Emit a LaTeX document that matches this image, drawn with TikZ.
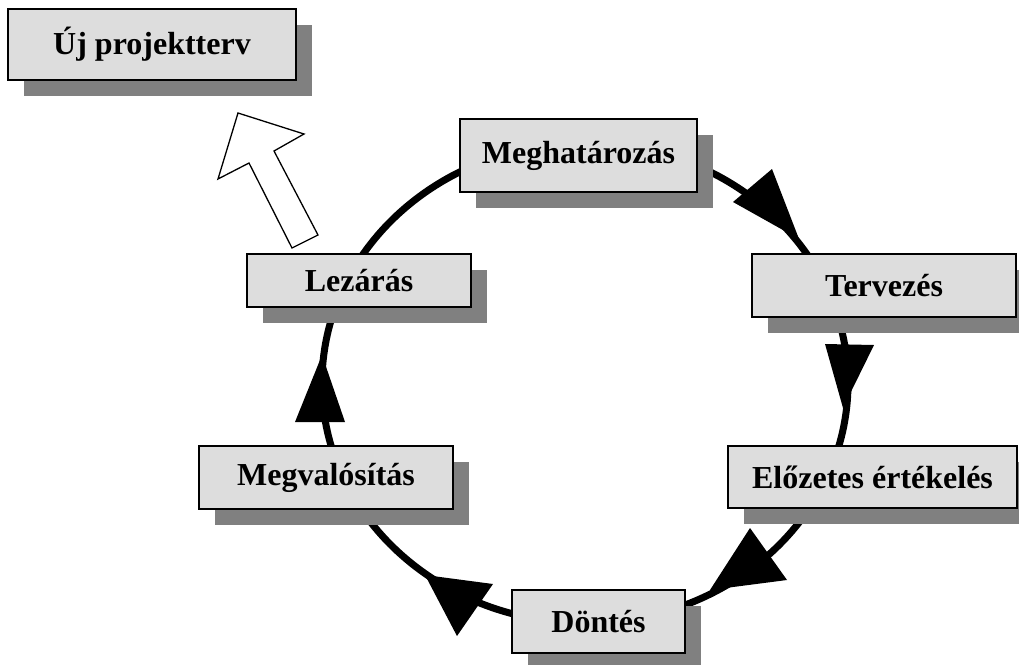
\documentclass[tikz,border=0pt]{standalone}
\usepackage{fontspec}
\setmainfont{Liberation Serif}
\definecolor{boxfill}{RGB}{221,221,221}
\definecolor{shadowgray}{RGB}{128,128,128}
\tikzset{
  stagebox/.style={draw=black, line width=2pt, fill=boxfill, inner sep=0pt,
    font=\bfseries\fontsize{32}{38}\selectfont},
  boxshadow/.style={fill=shadowgray},
  ringline/.style={draw=black, line width=7pt},
  tiphead/.style={fill=black},
  outarrow/.style={draw=black, fill=white, line width=1.3pt, line join=miter}
}
\begin{document}
\begin{tikzpicture}[x=1pt,y=-1pt]
\useasboundingbox (0,0) rectangle (1019,664);
\clip (0,0) rectangle (1019,664);

% ring
\coordinate (ringc) at (585,383);
\draw[ringline] (ringc) ellipse [x radius=263, y radius=240];

% arrowheads on the ring
\fill[tiphead] (733,202) -- (772,169) -- (799,239) -- cycle;
\fill[tiphead] (825,344) -- (874,345) -- (843,408) -- cycle;
\fill[tiphead] (750,528) -- (787,580) -- (710,590) -- cycle;
\fill[tiphead] (425,575) -- (493,584) -- (457,636) -- cycle;
\fill[tiphead] (322,355) -- (345,422) -- (295,422) -- cycle;

% hollow outgoing arrow
\draw[outarrow] (238,113) -- (304,134) -- (274,151) -- (318,235) -- (292,248) -- (249,163) -- (218,179) -- cycle;

% nodes (positions only, drawn after shadows)
\path
  (152,44.5)   node[minimum width=288pt, minimum height=71pt] (uj) {}
  (578.5,155.5) node[minimum width=237pt, minimum height=73pt] (megh) {}
  (884,285.5)  node[minimum width=264pt, minimum height=63pt] (terv) {}
  (872.5,477)  node[minimum width=289pt, minimum height=62pt] (elo) {}
  (598.5,621.5) node[minimum width=173pt, minimum height=63pt] (dont) {}
  (326,477.5)  node[minimum width=254pt, minimum height=63pt] (megv) {}
  (359,280.5)  node[minimum width=224pt, minimum height=53pt] (lez) {};

% shadows
\foreach \n in {uj,megh,terv,elo,dont,megv,lez}{
  \fill[boxshadow] ([shift={(16,16)}]\n.north west) rectangle ([shift={(16,16)}]\n.south east);
}

% boxes
\node[stagebox, minimum width=288pt, minimum height=71pt] (ujb) at (uj) {Új projektterv};
\node[stagebox, minimum width=237pt, minimum height=73pt] (meghb) at (megh) {Meghatározás};
\node[stagebox, minimum width=264pt, minimum height=63pt] (tervb) at (terv) {Tervezés};
\node[stagebox, minimum width=289pt, minimum height=62pt] (elob) at (elo) {Előzetes értékelés};
\node[stagebox, minimum width=173pt, minimum height=63pt] (dontb) at (dont) {Döntés};
\node[stagebox, minimum width=254pt, minimum height=63pt] (megvb) at (megv) {Megvalósítás};
\node[stagebox, minimum width=224pt, minimum height=53pt] (lezb) at (lez) {Lezárás};
\end{tikzpicture}
\end{document}
